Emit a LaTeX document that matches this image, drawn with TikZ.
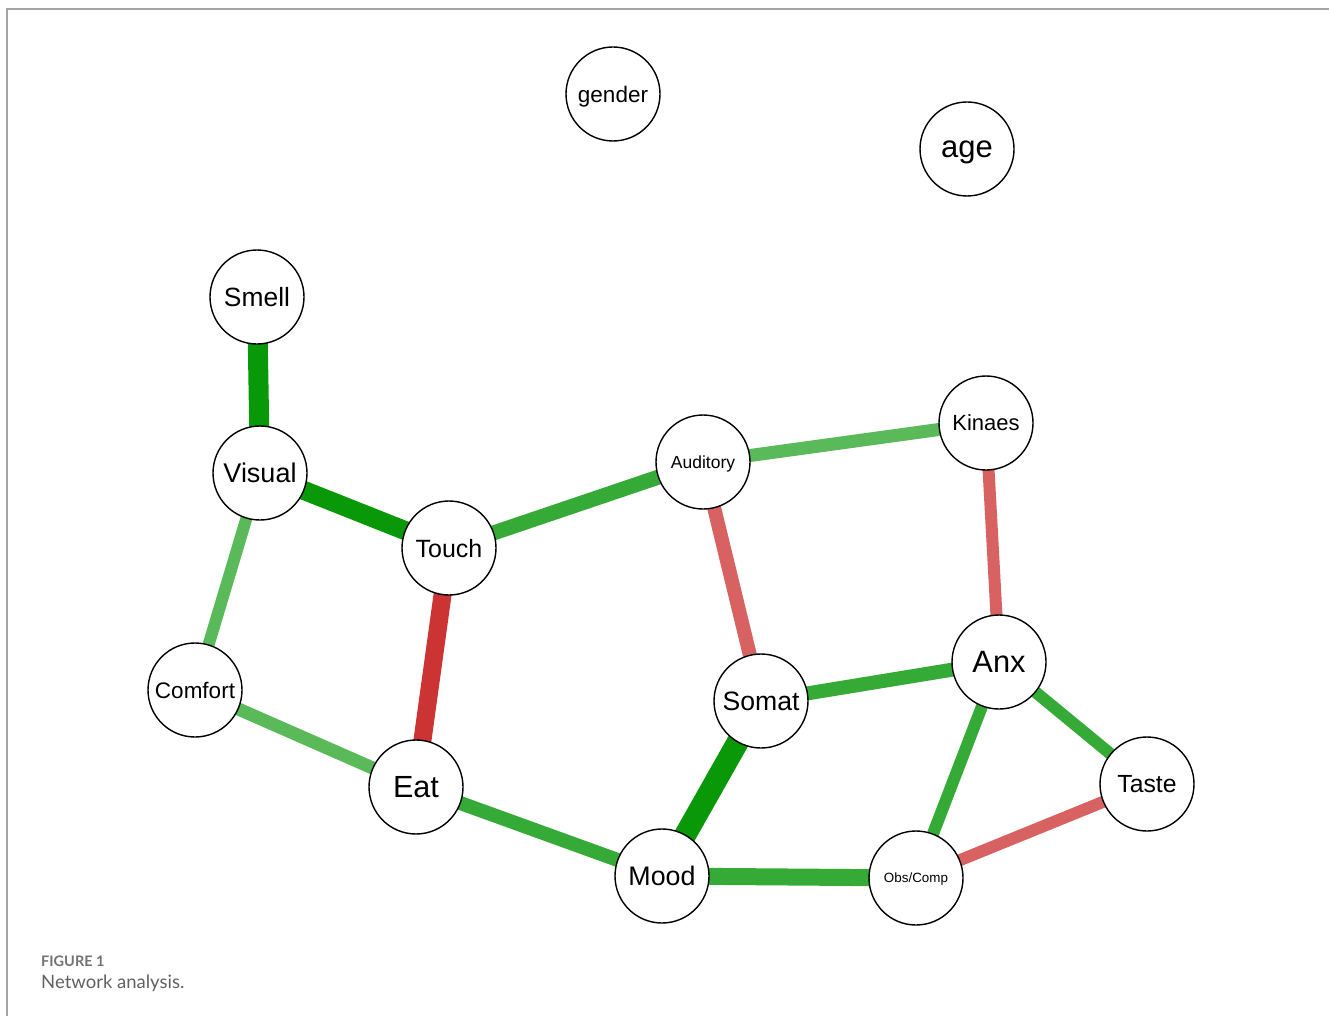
\documentclass[tikz,border=0pt]{standalone}
\usepackage{fontspec}
\setmainfont{Liberation Sans}
\newfontfamily\capfont{Lato}
\pgfdeclarelayer{bg}
\pgfsetlayers{bg,main}
\definecolor{gdark}{RGB}{8,152,8}
\definecolor{gmid}{RGB}{54,170,54}
\definecolor{glight}{RGB}{90,186,90}
\definecolor{rdark}{RGB}{204,52,52}
\definecolor{rlight}{RGB}{216,98,98}
\definecolor{frame}{RGB}{165,165,165}
\tikzset{
  vnode/.style={circle, draw=black, line width=1.4pt, fill=white, minimum size=94pt, inner sep=0pt, text depth=0pt},
  edge/.style={line cap=butt}
}
\newcommand{\fs}[1]{\fontsize{#1}{#1}\selectfont}
\begin{document}
\begin{tikzpicture}[x=1pt,y=-1pt]
\useasboundingbox (0,0) rectangle (1329,1016);
\draw[frame, line width=2pt] (7,1016) -- (7,9) -- (1329,9);

\node[vnode] (gender) at (613,94) {\fs{22.5}gender};
\node[vnode] (age) at (967,149) {\fs{31}age};
\node[vnode] (smell) at (257,297) {\fs{26.4}Smell};
\node[vnode] (visual) at (260,473) {\fs{27}Visual};
\node[vnode] (touch) at (449,548) {\fs{25}Touch};
\node[vnode] (auditory) at (703,462) {\fs{17.5}Auditory};
\node[vnode] (kinaes) at (986,423) {\fs{22}Kinaes};
\node[vnode] (comfort) at (195,690) {\fs{22.5}Comfort};
\node[vnode] (somat) at (761,701) {\fs{26.6}Somat};
\node[vnode] (anx) at (999,662) {\fs{30.8}Anx};
\node[vnode] (eat) at (416,787) {\fs{30.6}Eat};
\node[vnode] (taste) at (1147,784) {\fs{24.8}Taste};
\node[vnode] (mood) at (662,876) {\fs{26.8}Mood};
\node[vnode] (obs) at (916,878) {\fs{13.4}Obs/Comp};

\begin{pgfonlayer}{bg}
\draw[edge, gdark, line width=20pt] (smell.center) -- (visual.center);
\draw[edge, gdark, line width=19pt] (visual.center) -- (touch.center);
\draw[edge, glight, line width=12pt] (visual.center) -- (comfort.center);
\draw[edge, gmid, line width=15pt] (touch.center) -- (auditory.center);
\draw[edge, rdark, line width=18pt] (touch.center) -- (eat.center);
\draw[edge, glight, line width=13pt] (auditory.center) -- (kinaes.center);
\draw[edge, rlight, line width=14pt] (auditory.center) -- (somat.center);
\draw[edge, rlight, line width=12pt] (kinaes.center) -- (anx.center);
\draw[edge, gmid, line width=14pt] (somat.center) -- (anx.center);
\draw[edge, gdark, line width=22pt] (somat.center) -- (mood.center);
\draw[edge, glight, line width=13pt] (comfort.center) -- (eat.center);
\draw[edge, gmid, line width=14pt] (eat.center) -- (mood.center);
\draw[edge, gmid, line width=17pt] (mood.center) -- (obs.center);
\draw[edge, gmid, line width=12pt] (anx.center) -- (obs.center);
\draw[edge, gmid, line width=12pt] (anx.center) -- (taste.center);
\draw[edge, rlight, line width=12pt] (taste.center) -- (obs.center);
\end{pgfonlayer}

\node[anchor=base west, text=black!55, inner sep=0pt] (figlabel) at (41,966) {\capfont\bfseries\fs{14.5}FIGURE 1};
\node[anchor=base west, text=black!62, inner sep=0pt] (figtext) at (41,988) {\capfont\fs{18.5}Network analysis.};
\end{tikzpicture}
\end{document}
